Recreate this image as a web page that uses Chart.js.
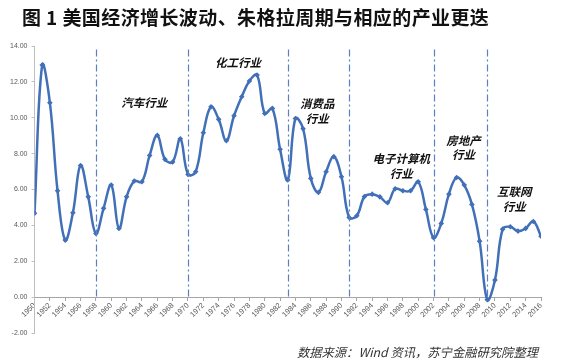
<!DOCTYPE html>
<html>
<head>
<meta charset="utf-8">
<script src="https://cdn.jsdelivr.net/npm/chart.js@4.4.1/dist/chart.umd.min.js"></script>
<style>
  html, body { margin: 0; padding: 0; background: #fff; }
  #wrap { position: relative; width: 561px; height: 364px; }
  #title {
    position: absolute; left: 22px; top: 3px;
    font: bold 19px "Noto Sans CJK SC", sans-serif; color: #111;
    white-space: nowrap; letter-spacing: 0.4px;
  }
  #source {
    position: absolute; right: 23px; top: 343px;
    font: italic 12.3px "Noto Sans CJK SC", sans-serif; color: #333;
    white-space: nowrap;
  }
  canvas { position: absolute; left: 0; top: 0; }
</style>
</head>
<body>
<div id="wrap">
  <canvas id="chart" width="561" height="364"></canvas>
  <div id="title">图 1 美国经济增长波动、朱格拉周期与相应的产业更迭</div>
  <div id="source">数据来源：Wind 资讯，苏宁金融研究院整理</div>
</div>
<script>
const years = [];
for (let y = 1950; y <= 2016; y++) years.push(y);

// 增长率（%）
const growth = [
  4.67, 12.94, 10.84, 5.93, 3.18, 4.70, 7.34, 5.59, 3.55, 4.95,
  6.25, 3.83, 5.59, 6.47, 6.43, 7.90, 9.02, 7.68, 7.53, 8.83,
  6.84, 6.99, 9.16, 10.61, 9.91, 8.72, 10.11, 11.17, 12.05, 12.38,
  10.24, 10.52, 8.24, 6.53, 9.96, 9.39, 6.62, 5.84, 6.99, 7.83,
  6.71, 4.44, 4.54, 5.61, 5.74, 5.59, 5.26, 6.04, 5.93, 5.93,
  6.43, 4.89, 3.31, 4.11, 5.74, 6.67, 6.25, 5.17, 3.12, -0.15,
  0.95, 3.79, 3.92, 3.68, 3.83, 4.22, 3.40
];

// 周期分界年份
const cycleYears = [1958, 1970, 1983, 1991, 2002, 2009];

// 产业标注：文字与所在的年份/数值
const industryText = [
  ['汽车行业'],
  ['化工行业'],
  ['消费品', '行业'],
  ['电子计算机', '行业'],
  ['房地产', '行业'],
  ['互联网', '行业']
];
const industryYear = [1964.3, 1976.5, 1986.85, 1997.8, 2005.9, 2012.5];
const industryValue = [10.82, 13.05, 10.37, 7.31, 8.34, 5.47];

const blue = '#4170b8';

const overlay = {
  id: 'overlay',
  afterDatasetsDraw(chart) {
    const { ctx, scales: { x, y } } = chart;
    ctx.save();
    // 周期分界线
    ctx.strokeStyle = '#5a80c0';
    ctx.lineWidth = 1.2;
    ctx.setLineDash([7, 3, 2, 3]);
    cycleYears.forEach(yr => {
      const px = Math.round(x.getPixelForValue(yr)) + 0.5;
      ctx.beginPath();
      ctx.moveTo(px, y.getPixelForValue(13.8));
      ctx.lineTo(px, y.getPixelForValue(0));
      ctx.stroke();
    });
    ctx.setLineDash([]);
    // 产业名称
    ctx.fillStyle = '#111';
    ctx.font = 'italic bold 11.5px "Noto Sans CJK SC", sans-serif';
    ctx.textAlign = 'center';
    ctx.textBaseline = 'middle';
    industryText.forEach((lines, i) => {
      const cx = x.getPixelForValue(industryYear[i]);
      const cy = y.getPixelForValue(industryValue[i]);
      const lh = 14.5;
      lines.forEach((t, j) => {
        ctx.fillText(t, cx, cy + (j - (lines.length - 1) / 2) * lh);
      });
    });
    ctx.restore();
  }
};

new Chart(document.getElementById('chart'), {
  type: 'line',
  data: {
    datasets: [{
      data: years.map((yr, i) => ({ x: yr, y: growth[i] })),
      borderColor: blue,
      backgroundColor: blue,
      borderWidth: 2.5,
      tension: 0.4,
      pointStyle: 'rectRot',
      pointRadius: 2.8,
      pointBorderWidth: 0,
      pointBackgroundColor: blue
    }]
  },
  plugins: [overlay],
  options: {
    responsive: false,
    animation: false,
    layout: { padding: { left: 6, right: 20, top: 46, bottom: 31 } },
    plugins: { legend: { display: false }, tooltip: { enabled: false } },
    scales: {
      x: {
        type: 'linear',
        position: { y: 0 },
        min: 1950, max: 2016,
        grid: { drawOnChartArea: false, tickLength: 3, color: '#a6a6a6' },
        border: { color: '#a6a6a6' },
        ticks: {
          stepSize: 2,
          autoSkip: false,
          minRotation: 45, maxRotation: 45,
          padding: 1,
          color: '#595959',
          font: { size: 7.5 },
          callback: v => String(v)
        }
      },
      y: {
        min: -2, max: 14,
        grid: { drawOnChartArea: false, tickLength: 3, color: '#bfbfbf' },
        border: { color: '#bfbfbf' },
        ticks: {
          stepSize: 2,
          padding: 4,
          color: '#595959',
          font: { size: 7 },
          callback: v => v.toFixed(2)
        }
      }
    }
  }
});
</script>
</body>
</html>
